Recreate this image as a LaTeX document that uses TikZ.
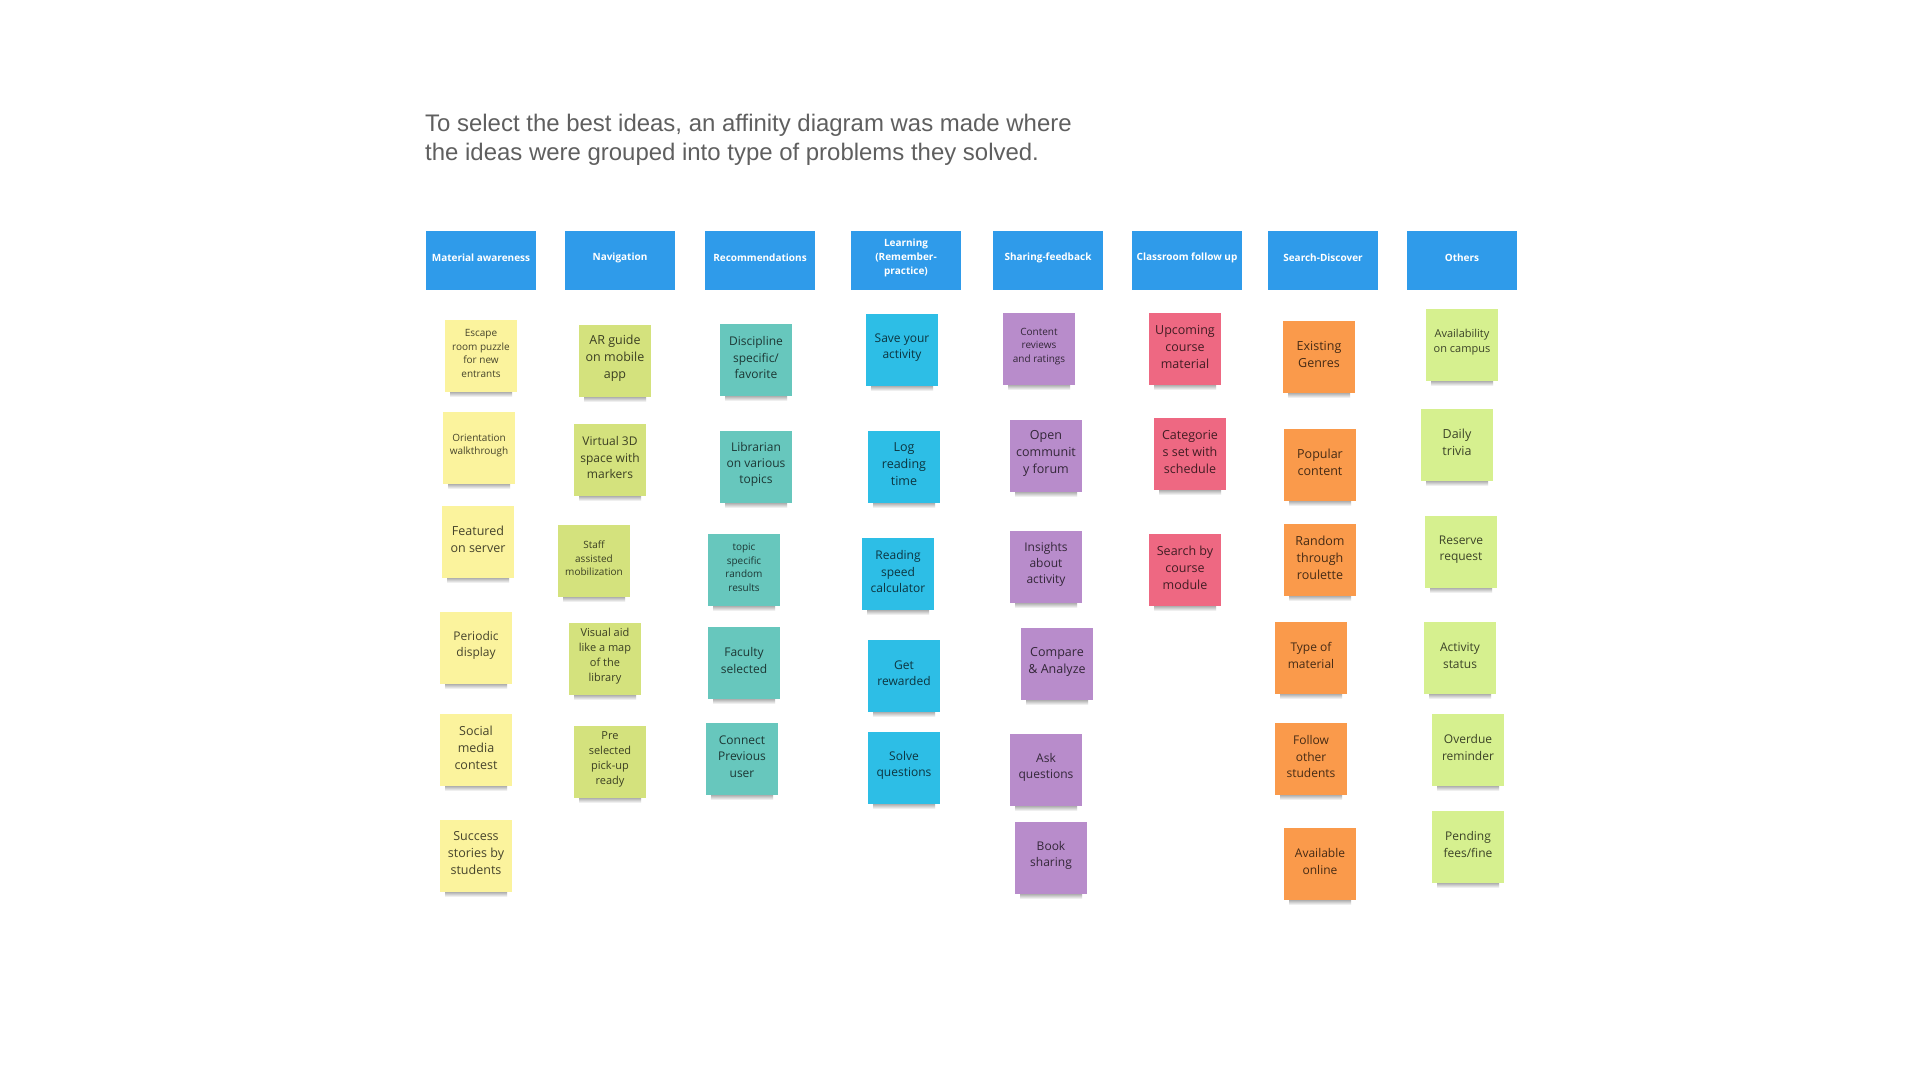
\documentclass[tikz,border=0pt]{standalone}
\usepackage{fontspec}
\setmainfont{Open Sans}
\newfontfamily\titlefont{Liberation Sans}
\definecolor{hdrblue}{RGB}{47,155,234}
\definecolor{cyel}{RGB}{251,243,157}
\definecolor{cnav}{RGB}{212,226,125}
\definecolor{cteal}{RGB}{103,199,189}
\definecolor{ccyan}{RGB}{45,190,230}
\definecolor{cpurp}{RGB}{184,140,203}
\definecolor{cpink}{RGB}{238,104,130}
\definecolor{corng}{RGB}{250,154,75}
\definecolor{cgrn}{RGB}{214,240,143}
\definecolor{titlegray}{RGB}{95,95,95}
\tikzset{
  header/.style={fill=hdrblue, minimum width=110pt, minimum height=59pt, inner sep=0pt},
  headertext/.style={inner sep=0pt, text=white, align=center, font=\fontsize{10}{14}\selectfont\bfseries},
  sticky/.style={minimum width=72pt, minimum height=72pt, inner sep=0pt},
  stickytext/.style={inner sep=0pt, align=center, text=black, text opacity=0.72},
  fa/.style={font=\fontsize{10}{13.6}\selectfont},
  fb/.style={font=\fontsize{11}{15}\selectfont},
  fc/.style={font=\fontsize{12}{16.3}\selectfont},
  fd/.style={font=\fontsize{12.5}{17}\selectfont},
  titletext/.style={font=\titlefont\fontsize{23.95}{29}\selectfont, text=titlegray, inner sep=0pt, anchor=base west}
}
\newcommand\stk[6]{%
  \shade[top color=black!50, bottom color=white] ({#2-31},{#3+33}) rectangle ({#2+31},{#3+41});
  \node[sticky, fill=#4] (#1) at (#2,#3) {};
  \node[stickytext, #5] (#1t) at ([yshift=2.5pt]#1.center) {#6};
}
\newcommand\hdr[4]{%
  \node[header] (#1) at (#2,#3) {};
  \node[headertext] (#1t) at ([yshift=3pt]#1.center) {#4};
}
\begin{document}
\begin{tikzpicture}[x=1pt, y=-1pt]
\useasboundingbox[fill=white] (0,0) rectangle (1920,1080);

\node[titletext] (title1) at (425,131) {To select the best ideas, an affinity diagram was made where};
\node[titletext] (title2) at (425,160) {the ideas were grouped into type of problems they solved.};

% headers
\hdr{hMat}{481}{260.5}{Material awareness}
\hdr{hNav}{620}{260.5}{Navigation}
\hdr{hRec}{760}{260.5}{Recommendations}
\hdr{hLea}{906}{260.5}{Learning\\(Remember-\\practice)}
\hdr{hSha}{1048}{260.5}{Sharing-feedback}
\hdr{hCla}{1187}{260.5}{Classroom follow up}
\hdr{hSea}{1323}{260.5}{Search-Discover}
\hdr{hOth}{1462}{260.5}{Others}

% Material awareness
\stk{m1}{481}{356}{cyel}{fa}{Escape\\room puzzle\\for new\\entrants}
\stk{m2}{479}{448}{cyel}{fa}{Orientation\\walkthrough}
\stk{m3}{478}{542}{cyel}{fd}{Featured\\on server}
\stk{m4}{476}{648}{cyel}{fc}{Periodic\\display}
\stk{m5}{476}{750}{cyel}{fd}{Social\\media\\contest}
\stk{m6}{476}{856}{cyel}{fd}{Success\\stories by\\students}

% Navigation
\stk{n1}{615}{361}{cnav}{fd}{AR guide\\on mobile\\app}
\stk{n2}{610}{460}{cnav}{fc}{Virtual 3D\\space with\\markers}
\stk{n3}{594}{561}{cnav}{fa}{Staff\\assisted\\mobilization}
\stk{n4}{605}{659}{cnav}{fb}{Visual aid\\like a map\\of the\\library}
\stk{n5}{610}{762}{cnav}{fb}{Pre\\selected\\pick-up\\ready}

% Recommendations
\stk{r1}{756}{360}{cteal}{fc}{Discipline\\specific/\\favorite}
\stk{r2}{756}{467}{cteal}{fc}{Librarian\\on various\\topics}
\stk{r3}{744}{570}{cteal}{fa}{topic\\specific\\random\\results}
\stk{r4}{744}{663}{cteal}{fc}{Faculty\\selected}
\stk{r5}{742}{759}{cteal}{fc}{Connect\\Previous\\user}

% Learning
\stk{l1}{902}{350}{ccyan}{fc}{Save your\\activity}
\stk{l2}{904}{467}{ccyan}{fd}{Log\\reading\\time}
\stk{l3}{898}{574}{ccyan}{fc}{Reading\\speed\\calculator}
\stk{l4}{904}{676}{ccyan}{fc}{Get\\rewarded}
\stk{l5}{904}{768}{ccyan}{fc}{Solve\\questions}

% Sharing-feedback
\stk{s1}{1039}{349}{cpurp}{fa}{Content\\reviews\\and ratings}
\stk{s2}{1046}{456}{cpurp}{fd}{Open\\communit\\y forum}
\stk{s3}{1046}{567}{cpurp}{fc}{Insights\\about\\activity}
\stk{s4}{1057}{664}{cpurp}{fd}{Compare\\\& Analyze}
\stk{s5}{1046}{770}{cpurp}{fc}{Ask\\questions}
\stk{s6}{1051}{858}{cpurp}{fc}{Book\\sharing}

% Classroom follow up
\stk{c1}{1185}{349}{cpink}{fd}{Upcoming\\course\\material}
\stk{c2}{1190}{454}{cpink}{fd}{Categorie\\s set with\\schedule}
\stk{c3}{1185}{570}{cpink}{fd}{Search by\\course\\module}

% Search-Discover
\stk{d1}{1319}{357}{corng}{fd}{Existing\\Genres}
\stk{d2}{1320}{465}{corng}{fd}{Popular\\content}
\stk{d3}{1320}{560}{corng}{fd}{Random\\through\\roulette}
\stk{d4}{1311}{658}{corng}{fc}{Type of\\material}
\stk{d5}{1311}{759}{corng}{fc}{Follow\\other\\students}
\stk{d6}{1320}{864}{corng}{fc}{Available\\online}

% Others
\stk{o1}{1462}{345}{cgrn}{fb}{Availability\\on campus}
\stk{o2}{1457}{445}{cgrn}{fd}{Daily\\trivia}
\stk{o3}{1461}{552}{cgrn}{fc}{Reserve\\request}
\stk{o4}{1460}{658}{cgrn}{fc}{Activity\\status}
\stk{o5}{1468}{750}{cgrn}{fc}{Overdue\\reminder}
\stk{o6}{1468}{847}{cgrn}{fc}{Pending\\fees/fine}
\end{tikzpicture}
\end{document}
